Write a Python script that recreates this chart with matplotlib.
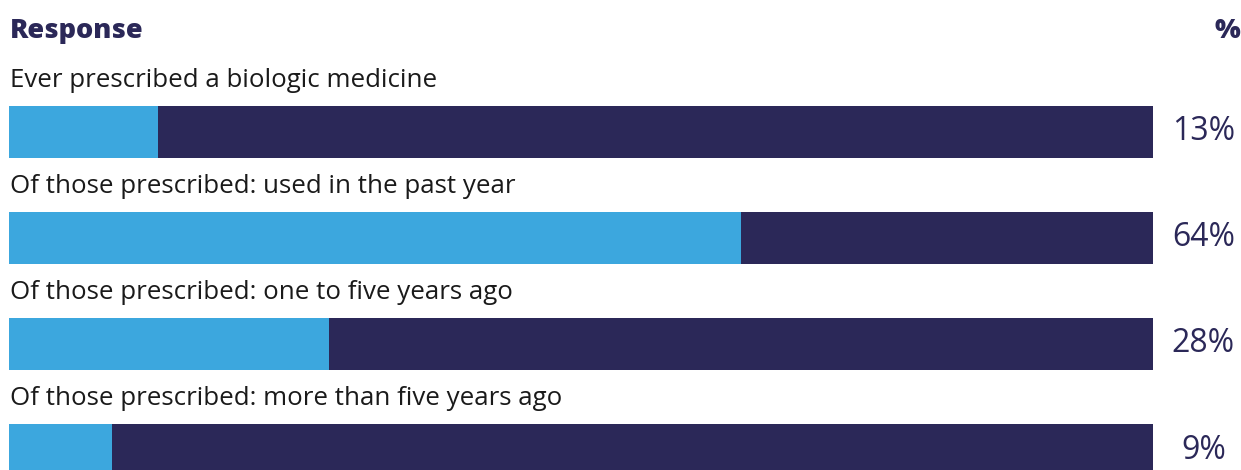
import matplotlib
matplotlib.use('Agg')
import matplotlib.pyplot as plt

# Data
categories = [
    'Ever prescribed a biologic medicine',
    'Of those prescribed: used in the past year',
    'Of those prescribed: one to five years ago',
    'Of those prescribed: more than five years ago',
]
values = [13, 64, 28, 9]

light = '#3ca7de'
dark = '#2b2858'

plt.rcParams['font.family'] = ['Open Sans', 'DejaVu Sans']

fig = plt.figure(figsize=(12.41, 4.70), dpi=100)
ax = fig.add_axes([0, 0, 1, 1])

ypos = list(range(len(categories)))
rest = [100 - v for v in values]
ax.barh(ypos, values, height=0.49, color=light, align='center')
ax.barh(ypos, rest, left=values, height=0.49, color=dark, align='center')

# map data to pixel layout: bar from x=9px to 1153px, rows 106px apart
ax.set_xlim(-9 / 11.44, (1241 - 9) / 11.44)
ax.set_ylim((470 - 132) / 106, -132 / 106)
ax.axis('off')

for i, (cat, v) in enumerate(zip(categories, values)):
    ax.text(0.1, i - 0.49, cat, ha='left', va='center', fontsize=18.6, color='#1a1a1a')
    ax.text(104.4, i, f'{v}%', ha='center', va='center', fontsize=23, color=dark)

ax.text(0.1, -0.95, 'Response', ha='left', va='center', fontsize=19.5,
        fontweight='heavy', color=dark)
ax.text(107.6, -0.95, '%', ha='right', va='center', fontsize=19.5,
        fontweight='heavy', color=dark)

fig.savefig('out.png', dpi=100)
